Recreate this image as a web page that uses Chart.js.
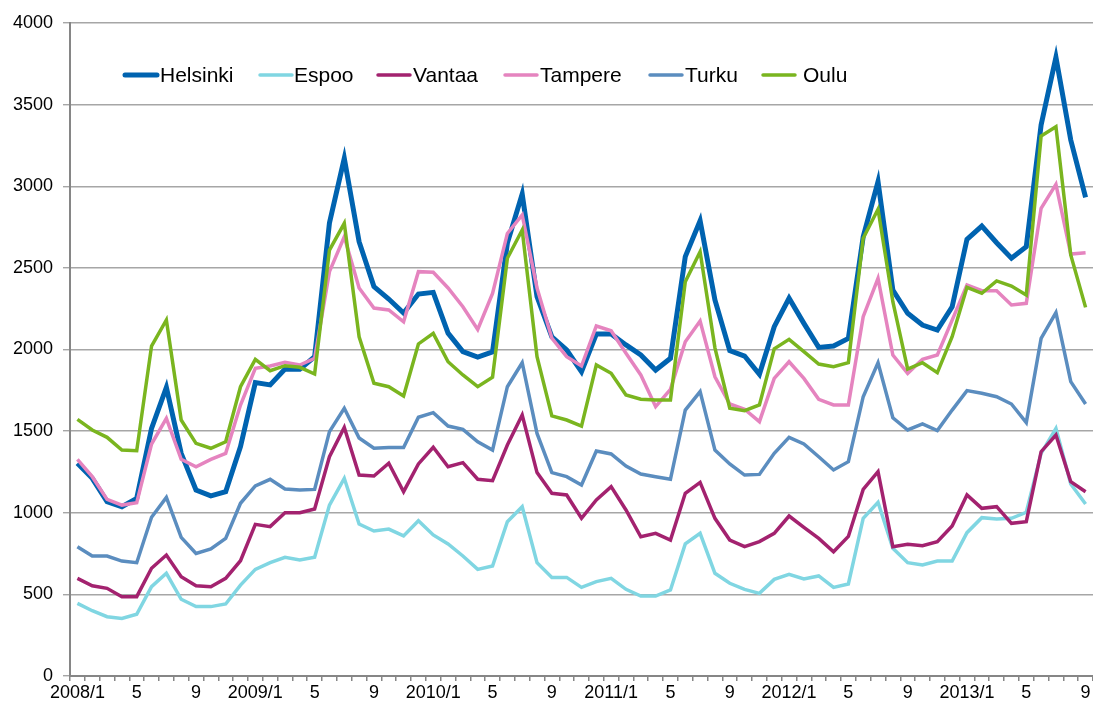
<!DOCTYPE html>
<html>
<head>
<meta charset="utf-8">
<script src="https://cdn.jsdelivr.net/npm/chart.js@4/dist/chart.umd.min.js"></script>
<style>
  html, body { margin: 0; padding: 0; background: #fff; }
  #wrap { width: 1093px; height: 704px; }
</style>
</head>
<body>
<div id="wrap"><canvas id="chart" width="1093" height="704"></canvas></div>
<script>
// monthly values 2008/1 .. 2013/9
const years = [2008, 2009, 2010, 2011, 2012, 2013];
const lastMonth = 9;

const helsinki = [1303,1211,1068,1037,1088,1517,1768,1364,1139,1103,1129,1405,
  1797,1783,1881,1879,1956,2775,3171,2660,2385,2309,2223,2340,
  2350,2100,1987,1954,1985,2652,2952,2324,2078,1997,1864,2095,
  2095,2028,1966,1874,1946,2569,2789,2303,1993,1960,1848,2140,
  2314,2160,2013,2021,2068,2691,3028,2364,2222,2150,2119,2262,
  2675,2756,2654,2559,2630,3375,3790,3283,2932];
const espoo = [445,400,363,353,378,547,629,470,425,425,441,557,
  653,694,727,711,727,1047,1211,931,888,900,858,951,
  864,809,735,653,674,945,1037,694,604,604,543,578,
  598,531,490,490,527,809,874,629,568,531,506,592,
  623,594,613,543,564,966,1064,782,694,680,704,704,
  878,970,962,966,1003,1364,1517,1176,1054];
const vantaa = [598,553,537,486,486,660,741,608,553,547,598,706,
  929,915,1000,1000,1023,1343,1523,1231,1225,1303,1129,1299,
  1401,1282,1307,1205,1196,1415,1599,1246,1119,1109,966,1078,
  1160,1017,853,874,833,1119,1186,966,833,792,823,874,
  980,911,843,761,855,1143,1252,792,807,798,823,919,
  1109,1027,1037,935,945,1374,1476,1190,1129];
const tampere = [1327,1221,1082,1047,1062,1421,1578,1327,1282,1327,1364,1660,
  1885,1899,1921,1905,1946,2477,2691,2377,2254,2242,2170,2477,
  2473,2377,2262,2123,2344,2711,2824,2377,2070,1956,1899,2144,
  2115,1977,1844,1650,1756,2048,2175,1833,1666,1634,1558,1823,
  1925,1823,1695,1660,1660,2201,2436,1966,1854,1940,1966,2180,
  2395,2360,2360,2273,2283,2865,3012,2585,2593];
const turku = [792,735,735,704,694,972,1094,849,751,778,843,1058,
  1164,1205,1146,1139,1143,1497,1640,1458,1395,1399,1399,1585,
  1613,1531,1511,1435,1384,1772,1919,1486,1246,1221,1170,1378,
  1360,1286,1237,1221,1205,1629,1742,1384,1299,1231,1235,1364,
  1462,1421,1343,1262,1313,1711,1919,1582,1507,1544,1503,1629,
  1748,1732,1711,1666,1552,2068,2226,1803,1666];
const oulu = [1572,1507,1462,1384,1380,2021,2181,1568,1425,1395,1435,1772,
  1940,1870,1901,1891,1850,2609,2773,2078,1793,1772,1715,2034,
  2099,1925,1844,1772,1830,2559,2732,1956,1593,1568,1531,1905,
  1854,1721,1695,1691,1691,2415,2599,2010,1640,1625,1660,2004,
  2062,1987,1911,1895,1919,2681,2859,2293,1880,1919,1858,2078,
  2381,2344,2420,2389,2334,3308,3365,2579,2258];

const yTicks = [0, 500, 1000, 1500, 2000, 2500, 3000, 3500, 4000];

const months = [];
years.forEach(y => {
  const end = y === years[years.length - 1] ? lastMonth : 12;
  for (let m = 1; m <= end; m++) months.push(y + "/" + m);
});

const series = [
  { label: "Helsinki", data: helsinki, color: "#0063b0", width: 5 },
  { label: "Espoo", data: espoo, color: "#80d6e2", width: 3.5 },
  { label: "Vantaa", data: vantaa, color: "#a3226f", width: 3.5 },
  { label: "Tampere", data: tampere, color: "#e584bf", width: 3.5 },
  { label: "Turku", data: turku, color: "#5b8dbf", width: 3.5 },
  { label: "Oulu", data: oulu, color: "#7ab51f", width: 3.5 }
];

// legend drawn inside the plot, like the original
const legendInside = {
  id: "legendInside",
  afterDraw(chart, args, opts) {
    const ctx = chart.ctx;
    ctx.save();
    ctx.font = "21px 'Liberation Sans', Arial, sans-serif";
    ctx.textBaseline = "middle";
    ctx.fillStyle = "#000";
    chart.data.datasets.forEach((ds, i) => {
      const x = opts.xs[i];
      const y = opts.y;
      ctx.strokeStyle = ds.borderColor;
      ctx.lineWidth = ds.borderWidth;
      ctx.lineCap = "round";
      ctx.beginPath();
      ctx.moveTo(x, y);
      ctx.lineTo(x + 32, y);
      ctx.stroke();
      ctx.fillText(ds.label, x + opts.gaps[i], y + 1);
    });
    ctx.restore();
  }
};

const font = { family: "'Liberation Sans', Arial, sans-serif", size: 18 };

new Chart(document.getElementById("chart"), {
  type: "line",
  data: {
    labels: months,
    datasets: series.map((s, i) => ({
      label: s.label,
      data: s.data,
      borderColor: s.color,
      backgroundColor: s.color,
      borderWidth: s.width,
      pointRadius: 0,
      tension: 0,
      fill: false,
      order: series.length - i
    }))
  },
  options: {
    responsive: false,
    animation: false,
    layout: { padding: { top: 23, right: 0, bottom: 0, left: 0 } },
    plugins: {
      legend: { display: false },
      tooltip: { enabled: false },
      legendInside: {
        xs: [125, 260, 378, 505, 650, 763],
        gaps: [35, 34, 35, 35, 35, 40],
        y: 75
      }
    },
    scales: {
      x: {
        offset: true,
        grid: {
          offset: true,
          drawOnChartArea: false,
          tickLength: 5,
          color: "#868686",
          lineWidth: 1.5
        },
        border: { color: "#868686", width: 2 },
        ticks: {
          autoSkip: false,
          maxRotation: 0,
          minRotation: 0,
          padding: 1,
          color: "#000",
          font: font,
          callback: function (value, index) {
            if (index % 4 !== 0) return "";
            const lbl = months[index];
            const m = lbl.split("/")[1];
            return m === "1" ? lbl : m;
          }
        },
        afterFit: s => { s.height = 28; }
      },
      y: {
        min: 0,
        max: 4000,
        afterBuildTicks: s => { s.ticks = yTicks.map(v => ({ value: v })); },
        grid: { color: "#a6a6a6", lineWidth: 1.4, tickLength: 7 },
        border: { color: "#868686", width: 2 },
        ticks: { color: "#000", font: font, padding: 10, callback: v => String(v) },
        afterFit: s => { s.width = 70; }
      }
    }
  },
  plugins: [legendInside]
});
</script>
</body>
</html>
